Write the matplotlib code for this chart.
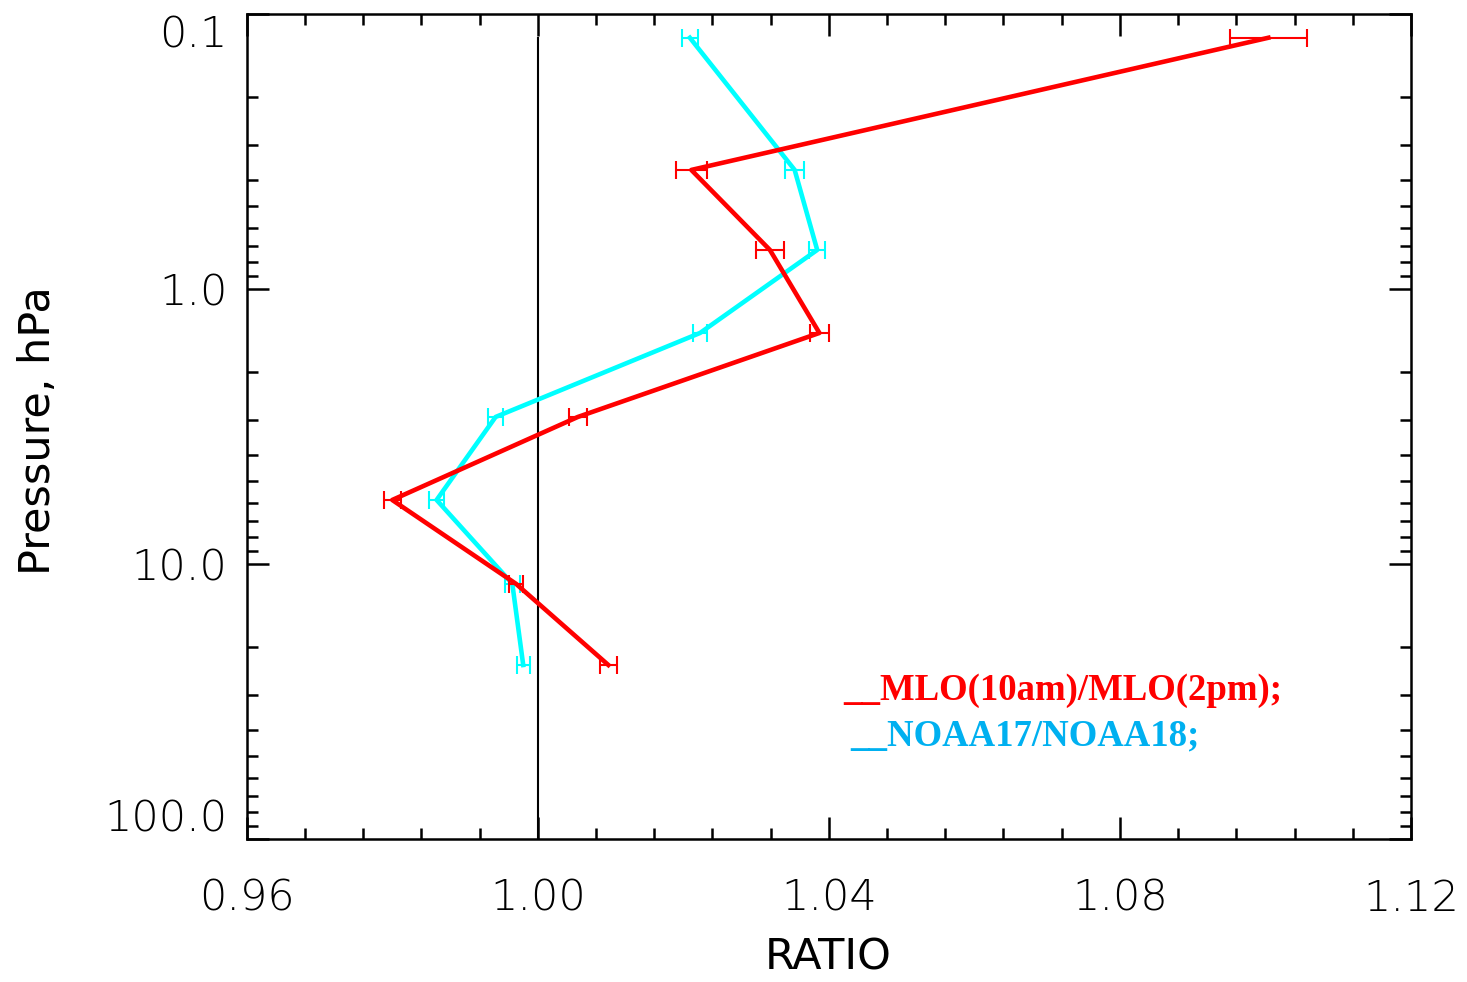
import matplotlib
matplotlib.use("Agg")
import matplotlib.pyplot as plt
from matplotlib.ticker import FixedLocator, NullFormatter

# ---- data ----
pressure = [0.122, 0.369, 0.721, 1.445, 2.92, 5.85, 11.8, 23.3]   # hPa
mlo_ratio = [1.1004, 1.0211, 1.0319, 1.0387, 1.0055, 0.9800, 0.9970, 1.0097]
mlo_err = [0.0053, 0.0021, 0.0019, 0.0013, 0.0012, 0.0012, 0.0010, 0.0012]
noaa_ratio = [1.0209, 1.0353, 1.0384, 1.0223, 0.9942, 0.9861, 0.9965, 0.9980]
noaa_err = [0.0011, 0.0013, 0.0011, 0.0010, 0.0010, 0.0010, 0.0010, 0.0009]
ref_ratio = 1.0

x_ticks = [0.96, 1.00, 1.04, 1.08, 1.12]
x_ticklabels = ["0.96", "1.00", "1.04", "1.08", "1.12"]
y_ticks = [0.1, 1.0, 10.0, 100.0]
y_ticklabels = ["0.1", "1.0", "10.0", "100.0"]
legend_labels = ["__MLO(10am)/MLO(2pm);", "__NOAA17/NOAA18;"]

RED = "#ff0000"
CYAN = "#00ffff"
CYAN_TXT = "#00b0f0"

W, H = 1467, 982
fig = plt.figure(figsize=(W / 100, H / 100), dpi=100)
ax = fig.add_axes([246.7 / W, 1 - 839 / H, (1411 - 246.7) / W, (839 - 14) / H])

# reference line
ax.plot([ref_ratio, ref_ratio], [pressure[0], 100.0], color="black", lw=1.5, zorder=1)

ax.errorbar(mlo_ratio, pressure, xerr=mlo_err, color=RED, lw=3.3, elinewidth=1.5,
            capsize=6.5, capthick=1.5, zorder=3)
ax.errorbar(noaa_ratio, pressure, xerr=noaa_err, color=CYAN, lw=3.3, elinewidth=1.5,
            capsize=6.5, capthick=1.5, zorder=2)

ax.set_yscale("log")
ax.set_ylim(100.0, 0.1)
ax.set_xlim(0.96, 1.12)

ax.xaxis.set_major_locator(FixedLocator(x_ticks))
ax.set_xticklabels(x_ticklabels)
minor_x = [0.96 + 0.008 * i for i in range(21)]
ax.xaxis.set_minor_locator(FixedLocator(minor_x))

ax.yaxis.set_major_locator(FixedLocator(y_ticks))
ax.set_yticklabels(y_ticklabels)
minor_y = [m * 10.0 ** e for e in (-1, 0, 1) for m in range(2, 10)]
ax.yaxis.set_minor_locator(FixedLocator(minor_y))
ax.yaxis.set_minor_formatter(NullFormatter())

for s in ax.spines.values():
    s.set_linewidth(1.8)

ax.tick_params(which="both", direction="in", top=True, right=True, width=1.8)
ax.tick_params(which="major", length=16)
ax.tick_params(which="minor", length=8)
ax.tick_params(axis="x", which="major", labelsize=31, pad=28)
ax.tick_params(axis="y", which="major", labelsize=31, pad=14)

labs = ax.get_yticklabels()
labs[0].set_va("top")
labs[-1].set_va("bottom")
for lab in ax.get_xticklabels() + ax.get_yticklabels():
    lab.set_fontweight("light")

fig.text(828 / W, 1 - 958 / H, "RATIO", fontsize=31, ha="center", va="center")
fig.text(38 / W, 1 - 431 / H, "Pressure, hPa", fontsize=31, ha="center", va="center",
         rotation=90)

fig.text(843 / W, 1 - 700 / H, legend_labels[0], color=RED, fontsize=26.5,
         family="Liberation Serif", fontweight="bold", va="baseline")
fig.text(850 / W, 1 - 745 / H, legend_labels[1], color=CYAN_TXT, fontsize=26.5,
         family="Liberation Serif", fontweight="bold", va="baseline")

fig.savefig("out.png", dpi=100)
